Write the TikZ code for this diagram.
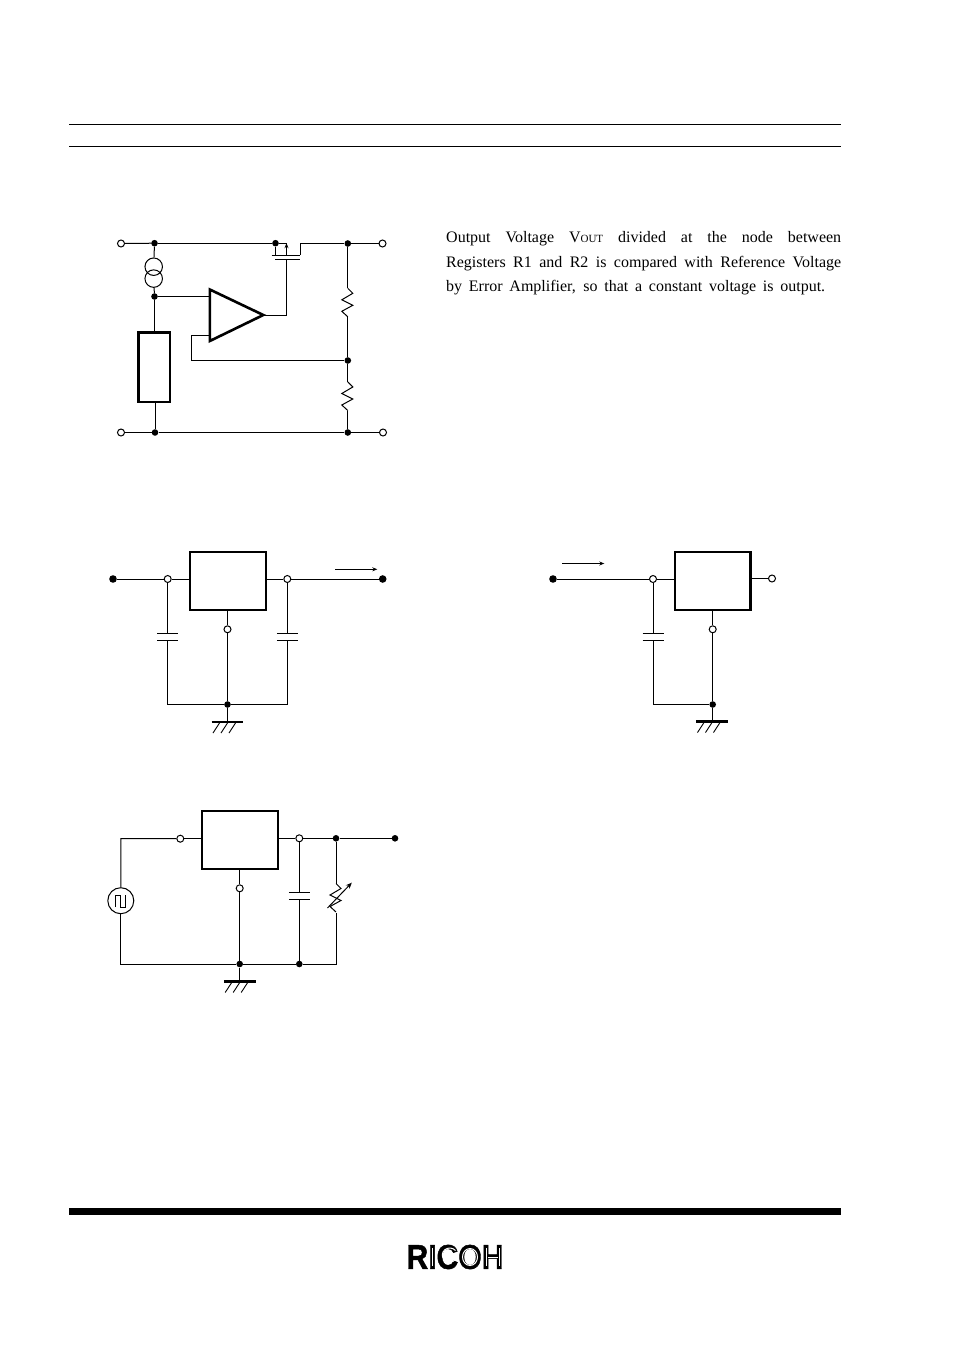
\documentclass[tikz,border=0pt]{standalone}
\usepackage{fontspec}
\usepackage{graphicx}
\setmainfont{Liberation Serif}
\newfontfamily\logofont[Scale=1,FakeBold=1.5]{Liberation Sans Bold}
\usetikzlibrary{arrows.meta}
\tikzset{
  wire/.style={line width=1pt,line join=miter},
  heavy/.style={line width=2.6pt,line join=miter},
  dotn/.style={circle,fill=black,draw=none,inner sep=0pt,minimum size=6.6pt},
  bigdot/.style={dotn,minimum size=7.6pt},
  openn/.style={circle,fill=white,draw=black,line width=1pt,inner sep=0pt,minimum size=7pt},
  ic/.style={draw=black,line width=2.2pt,fill=white,inner sep=0pt,outer sep=0pt,anchor=north west},
  plate/.style={line width=1pt},
  gbar/.style={line width=2.4pt},
  hatch/.style={line width=0.9pt},
  rule/.style={line width=1pt},
  flow/.style={line width=1pt,-{Stealth[length=5pt,width=4pt]}},
  para/.style={anchor=base west,inner sep=0pt,font=\fontsize{16}{18}\selectfont},
  inl/.style={draw=white,line width=1pt},
}
\newcommand{\resist}[1]{(#1) -- ++(5,5) -- ++(-11,6.5) -- ++(11,5.5) -- ++(-11,6) -- ++(6,5.5)}
\newcommand{\ground}[3]{% name, x, y of bar
  \draw[gbar] (#2-15.8,#3) -- (#2+15.8,#3);
  \draw[hatch] (#2-8,#3+1) -- ++(-6.5,10);
  \draw[hatch] (#2,#3+1) -- ++(-6.5,10);
  \draw[hatch] (#2+8,#3+1) -- ++(-6.5,10);
}
\begin{document}
\begin{tikzpicture}[x=1pt,y=-1pt]
\useasboundingbox (0,0) rectangle (954,1351);
% header & footer
\coordinate (hl1) at (69,124.5); \coordinate (hr1) at (841,124.5);
\coordinate (hl2) at (69,146.5); \coordinate (hr2) at (841,146.5);
\coordinate (fl) at (69,1211.5); \coordinate (fr) at (841,1211.5);
\draw[rule] (hl1) -- (hr1);
\draw[rule] (hl2) -- (hr2);
\draw[line width=7pt] (fl) -- (fr);
% paragraph
\node[para] (t1) at (446,242.5) {\makebox[395pt][s]{Output Voltage V{\fontsize{11}{10}\selectfont OUT} divided at the node between}};
\node[para] (t2) at (446,267) {\makebox[395pt][s]{Registers R1 and R2 is compared with Reference Voltage}};
\node[para] (t3) at (446,291.5) {\makebox[379pt][s]{by Error Amplifier, so that a constant voltage is output.}};
% ---------- block diagram
\node[openn] (a1) at (121,243.5) {};
\node[openn] (a2) at (382.5,243.5) {};
\node[openn] (a3) at (121,432.5) {};
\node[openn] (a4) at (383,432.5) {};
\node[dotn] (d1) at (154.5,243.2) {};
\node[dotn] (d2) at (275.5,243.2) {};
\node[dotn] (d3) at (347.8,243.5) {};
\node[dotn] (d4) at (154.5,296.5) {};
\node[dotn] (d5) at (347.8,360.5) {};
\node[dotn] (d6) at (155,432.5) {};
\node[dotn] (d7) at (347.8,432.5) {};
\node[draw=black,line width=1pt,circle,inner sep=0pt,minimum size=17.5pt] (cs1) at (153.7,266.7) {};
\node[draw=black,line width=1pt,circle,inner sep=0pt,minimum size=17.5pt] (cs2) at (153.7,278.6) {};
\node[ic,minimum width=31.5pt,minimum height=69.5pt,line width=2.6pt] (ref) at (138.3,332.3) {};
\coordinate (ampa) at (209.8,289.5);
\coordinate (ampb) at (209.8,341);
\coordinate (ampc) at (263.3,315);
\coordinate (ampin1) at (209.8,296.5);
\coordinate (ampin2) at (209.8,335.5);
\coordinate (fbk) at (191.5,360.5);
\coordinate (g1) at (286.5,259.7);
\coordinate (g2) at (286.5,315);
\coordinate (s1) at (275.5,255);
\coordinate (s2) at (286.5,255);
\coordinate (s3) at (286.5,243.2);
\coordinate (dr1) at (300,255);
\coordinate (dr2) at (300,243.5);
\coordinate (pl1) at (271.7,255);
\coordinate (pl2) at (275,259.7);
\coordinate (pl3) at (300,259.7);
\coordinate (r1a) at (347.8,288.3);
\coordinate (r1b) at (347.8,316.8);
\coordinate (r2a) at (347.8,382);
\coordinate (r2b) at (347.8,410.5);
\draw[wire] (a1) -- (d1);
\draw[wire] (d1) -- (d2);
\draw[wire] (d2) -- (s3);
\draw[flow] (s2) -- (s3);
\draw[wire] (d2) -- (s1);
\draw[wire] (dr1) -- (dr2) -- (d3);
\draw[wire] (d3) -- (a2);
\draw[wire] (pl1) -- (dr1);
\draw[wire] (pl2) -- (pl3);
\draw[wire] (g1) -- (g2) -- (ampc);
\draw[wire] (d1) -- (cs1);
\draw[wire] (cs2) -- (d4);
\draw[wire] (d4) -- (ampin1);
\draw[wire] (d4) -- (d4 |- ref.north);
\draw[wire] (d6 |- ref.south) -- (d6);
\draw[wire] (a3) -- (d6);
\draw[wire] (d6) -- (d7);
\draw[wire] (d7) -- (a4);
\draw[wire] (ampin2) -| (fbk) -- (d5);
\draw[heavy] (ampa) -- (ampc) -- (ampb) -- cycle;
\draw[wire] (d3) -- (r1a);
\draw[wire] \resist{r1a};
\draw[wire] (r1b) -- (d5);
\draw[wire] (d5) -- (r2a);
\draw[wire] \resist{r2a};
\draw[wire] (r2b) -- (d7);
% ---------- diagram 2
\node[ic,minimum width=75.7pt,minimum height=57.7pt] (b) at (190,552.3) {};
\node[bigdot] (b1) at (113,579) {};
\node[openn] (b2) at (167.7,579) {};
\node[openn] (b3) at (287.3,579) {};
\node[bigdot] (b4) at (382.7,579) {};
\node[openn] (b5) at (227.5,629.3) {};
\node[dotn] (b6) at (227.5,704.5) {};
\coordinate (bc1) at (167.7,633.3); \coordinate (bc2) at (167.7,640);
\coordinate (bc3) at (287.3,633.3); \coordinate (bc4) at (287.3,640);
\coordinate (bg) at (227.5,722);
\coordinate (bbl) at (227.5,610);
\coordinate (bf1) at (335,569.3); \coordinate (bf2) at (377.3,569.3);
\draw[wire] (b1) -- (b2);
\draw[wire] (b2) -- (b2 -| b.west);
\draw[wire] (b3 -| b.east) -- (b3);
\draw[wire] (b3) -- (b4);
\draw[wire] (b2) -- (bc1);
\draw[wire] (b3) -- (bc3);
\draw[wire] (bbl) -- (b5);
\draw[wire] (b5) -- (b6);
\draw[wire] (bc2) |- (b6);
\draw[wire] (bc4) |- (b6);
\draw[wire] (b6) -- (bg);
\draw[plate] (157.2,633.3) -- (178.2,633.3);
\draw[plate] (157.2,640) -- (178.2,640);
\draw[plate] (276.8,633.3) -- (297.8,633.3);
\draw[plate] (276.8,640) -- (297.8,640);
\ground{g1}{227.5}{722}
\draw[flow] (bf1) -- (bf2);
% ---------- diagram 3
\node[ic,minimum width=75.5pt,minimum height=57.7pt] (c) at (675,552.3) {};
\node[bigdot] (c1) at (553,579) {};
\node[openn] (c2) at (653,579) {};
\node[openn] (c3) at (772,578.5) {};
\node[openn] (c5) at (712.7,629.3) {};
\node[dotn] (c6) at (712.7,704.5) {};
\coordinate (cc1) at (653,633.3); \coordinate (cc2) at (653,640);
\coordinate (cg) at (712.7,721.5);
\coordinate (cbl) at (712.7,610);
\coordinate (cf1) at (562.3,563.5); \coordinate (cf2) at (604.3,563.5);
\draw[wire] (c1) -- (c2);
\draw[wire] (c2) -- (c2 -| c.west);
\draw[wire] (c3 -| c.east) -- (c3);
\draw[wire] (c2) -- (cc1);
\draw[wire] (cbl) -- (c5);
\draw[wire] (c5) -- (c6);
\draw[wire] (cc2) |- (c6);
\draw[wire] (c6) -- (cg);
\draw[plate] (642.5,633.3) -- (663.5,633.3);
\draw[plate] (642.5,640) -- (663.5,640);
\ground{g2}{712}{721.5}
\draw[flow] (cf1) -- (cf2);
% ---------- diagram 4
\node[ic,minimum width=76.3pt,minimum height=58pt] (e) at (202,811) {};
\node[openn] (e1) at (180.3,838.7) {};
\node[openn] (e2) at (299.3,838.3) {};
\node[dotn] (e3) at (336,838.3) {};
\node[dotn] (e4) at (395,838.3) {};
\node[openn] (e5) at (239.7,888.3) {};
\node[dotn] (e6) at (239.7,964) {};
\node[dotn] (e7) at (299.3,964) {};
\node[circle,draw=black,line width=1pt,inner sep=0pt,minimum size=26pt] (src) at (120.8,900.7) {};
\coordinate (etl) at (120.8,838.5);
\coordinate (ebl) at (120.8,964);
\coordinate (ebr) at (336,964);
\coordinate (ec1) at (299.3,892.3); \coordinate (ec2) at (299.3,899.3);
\coordinate (er1) at (336,883.5); \coordinate (er2) at (336,912.5);
\coordinate (ebt) at (239.7,869);
\coordinate (eg) at (239.7,981.5);
\coordinate (ea1) at (327.5,908); \coordinate (ea2) at (351.8,882.7);
\draw[wire] (src) -- (etl) -- (e1);
\draw[wire] (e1) -- (e1 -| e.west);
\draw[wire] (e2 -| e.east) -- (e2);
\draw[wire] (e2) -- (e3);
\draw[wire] (e3) -- (e4);
\draw[wire] (src) -- (ebl) -- (e6);
\draw[wire] (e6) -- (e7);
\draw[wire] (e7) -- (ebr) -- (er2);
\draw[wire] (e3) -- (er1);
\draw[wire] \resist{er1};
\draw[wire] (ebt) -- (e5);
\draw[wire] (e5) -- (e6);
\draw[wire] (e6) -- (eg);
\draw[wire] (e2) -- (ec1);
\draw[wire] (ec2) -- (e7);
\draw[plate] (288.8,892.3) -- (309.8,892.3);
\draw[plate] (288.8,899.3) -- (309.8,899.3);
\draw[line width=1pt,-{Stealth[length=6pt,width=5pt]}] (ea1) -- (ea2);
\draw[wire] (115.7,907) -- (115.7,895) -- (120.8,895) -- (120.8,907) -- (125.8,907) -- (125.8,895);
\ground{g3}{239.7}{981.5}
% ---------- logo
\node[inner sep=0pt,anchor=center] (logo) at (455,1257) {\resizebox{97pt}{24pt}{\logofont RICOH}};
\draw[inl] (432.3,1248) -- (432.3,1266);
\draw[inl] (455.5,1250.5) arc[x radius=7.5,y radius=7,start angle=-40,end angle=-320];
\draw[inl] (470,1257) ellipse[x radius=7.5,y radius=8.5];
\draw[inl] (486.5,1248) -- (486.5,1266);
\draw[inl] (499.5,1248) -- (499.5,1266);
\draw[inl] (488,1257) -- (498,1257);
\end{tikzpicture}
\end{document}
